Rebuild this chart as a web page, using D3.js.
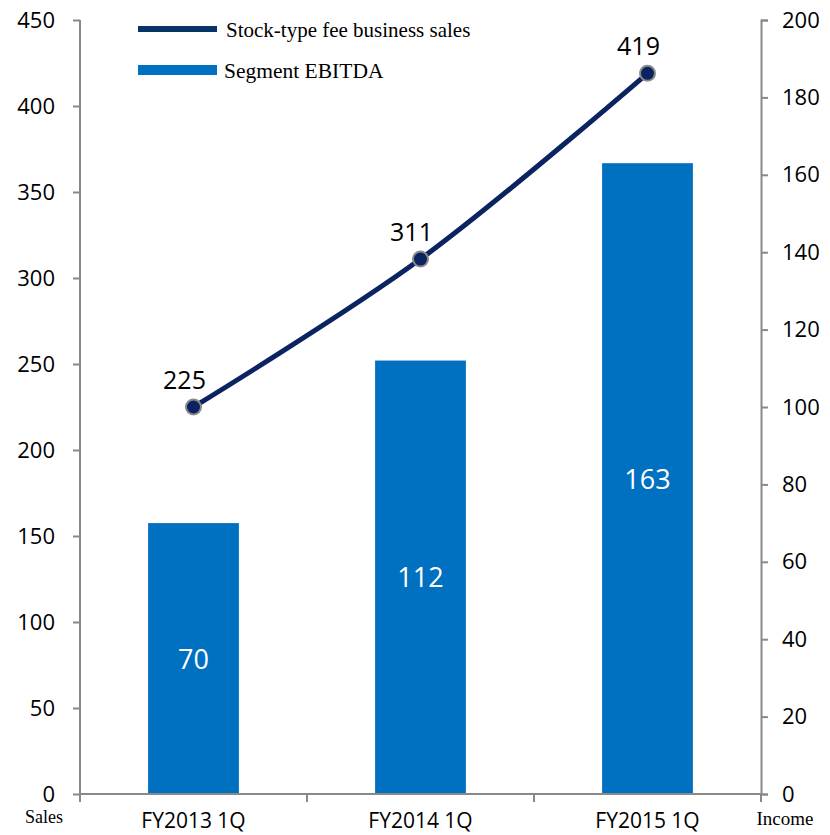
<!DOCTYPE html>
<html>
<head>
<meta charset="utf-8">
<script src="https://cdn.jsdelivr.net/npm/d3@7"></script>
<style>
  html, body { margin: 0; padding: 0; background: #fff; }
  svg { display: block; }
</style>
</head>
<body>
<svg id="chart" width="830" height="835"></svg>
<script>
// Quarterly figures
const categories = ["FY2013 1Q", "FY2014 1Q", "FY2015 1Q"];
const stockSales = [225, 311, 419];      // line, left axis (Sales)
const segmentEbitda = [70, 112, 163];    // bars, right axis (Income)
const leftTicks = [0, 50, 100, 150, 200, 250, 300, 350, 400, 450];
const rightTicks = [0, 20, 40, 60, 80, 100, 120, 140, 160, 180, 200];
const seriesNames = ["Stock-type fee business sales", "Segment EBITDA"];

const svg = d3.select("#chart");
const plotLeft = 80, plotRight = 761, plotTop = 20, plotBottom = 794;
const axisColor = "#898989";
const sansFont = "'Open Sans', 'Noto Sans', sans-serif";
const serifFont = "'Liberation Serif', 'DejaVu Serif', serif";

const x = d3.scaleBand().domain(categories).range([plotLeft, plotRight]).padding(0);
const yLeft = d3.scaleLinear().domain([0, 450]).range([plotBottom, plotTop]);
const yRight = d3.scaleLinear().domain([0, 200]).range([plotBottom, plotTop]);

// Bars (right axis)
const barW = x.bandwidth() * 0.4;
svg.append("g").selectAll("rect")
  .data(segmentEbitda)
  .join("rect")
  .attr("x", (d, i) => x(categories[i]) + x.bandwidth() / 2 - barW / 2)
  .attr("y", d => yRight(d))
  .attr("width", barW)
  .attr("height", d => plotBottom - yRight(d))
  .attr("fill", "#0070c0");

svg.append("g").selectAll("text")
  .data(segmentEbitda)
  .join("text")
  .attr("x", (d, i) => x(categories[i]) + x.bandwidth() / 2)
  .attr("y", d => (yRight(d) + plotBottom) / 2 + 10)
  .attr("text-anchor", "middle")
  .attr("fill", "#fff")
  .attr("font-family", sansFont)
  .attr("font-size", 27)
  .text(d => d);

// Axes
const leftAxis = d3.axisLeft(yLeft).tickValues(leftTicks).tickSize(7).tickPadding(18);
const gl = svg.append("g").attr("transform", `translate(${plotLeft},0)`).call(leftAxis);
const rightAxis = d3.axisRight(yRight).tickValues(rightTicks).tickSize(7).tickPadding(14);
const gr = svg.append("g").attr("transform", `translate(${plotRight},0)`).call(rightAxis);
const bottomAxis = d3.axisBottom(x).tickSize(0).tickPadding(19);
const gb = svg.append("g").attr("transform", `translate(0,${plotBottom})`).call(bottomAxis);

[gl, gr, gb].forEach(g => {
  g.select(".domain").attr("stroke", axisColor).attr("stroke-width", 2);
  g.selectAll(".tick line").attr("stroke", axisColor).attr("stroke-width", 2);
  g.selectAll("text").attr("fill", "#000").attr("font-family", sansFont);
});
gl.select(".domain").attr("d", `M0,${plotTop}V${plotBottom + 8}`);
gl.selectAll("text").attr("font-size", 22);
gr.selectAll("text").attr("font-size", 22);
gb.selectAll("text").attr("font-size", 21);
gb.select(".domain").attr("d", `M${plotLeft},0H${plotRight}`);

// Category separator ticks on the x axis
svg.append("g").selectAll("line")
  .data(categories)
  .join("line")
  .attr("x1", d => x(d) + x.bandwidth())
  .attr("x2", d => x(d) + x.bandwidth())
  .attr("y1", plotBottom)
  .attr("y2", plotBottom + 8)
  .attr("stroke", axisColor)
  .attr("stroke-width", 2);

// Axis titles
svg.append("text").attr("x", 44).attr("y", 823).attr("text-anchor", "middle")
  .attr("font-family", serifFont).attr("font-size", 18).text("Sales");
svg.append("text").attr("x", 785).attr("y", 825).attr("text-anchor", "middle")
  .attr("font-family", serifFont).attr("font-size", 19).text("Income");

// Line (left axis)
const pts = stockSales.map((d, i) => [x(categories[i]) + x.bandwidth() / 2, yLeft(d)]);
svg.append("path")
  .attr("d", d3.line().curve(d3.curveCatmullRom.alpha(0.5))(pts))
  .attr("fill", "none")
  .attr("stroke", "#0b2461")
  .attr("stroke-width", 5);

svg.append("g").selectAll("circle")
  .data(pts)
  .join("circle")
  .attr("cx", d => d[0])
  .attr("cy", d => d[1])
  .attr("r", 7.5)
  .attr("fill", "#0b2461")
  .attr("stroke", "#8a8a8a")
  .attr("stroke-width", 2);

svg.append("g").selectAll("text")
  .data(stockSales)
  .join("text")
  .attr("x", (d, i) => pts[i][0] - 9)
  .attr("y", (d, i) => pts[i][1] - 18)
  .attr("text-anchor", "middle")
  .attr("font-family", sansFont)
  .attr("font-size", 25)
  .attr("fill", "#000")
  .text(d => d);

// Legend
const legend = svg.append("g");
legend.append("line").attr("x1", 138).attr("x2", 217).attr("y1", 29).attr("y2", 29)
  .attr("stroke", "#063468").attr("stroke-width", 6);
legend.append("text").attr("x", 226).attr("y", 37)
  .attr("font-family", serifFont).attr("font-size", 21).text(seriesNames[0]);
legend.append("rect").attr("x", 138).attr("y", 65).attr("width", 79).attr("height", 10)
  .attr("fill", "#0070c0");
legend.append("text").attr("x", 224).attr("y", 78)
  .attr("font-family", serifFont).attr("font-size", 21.5).text(seriesNames[1]);
</script>
</body>
</html>
